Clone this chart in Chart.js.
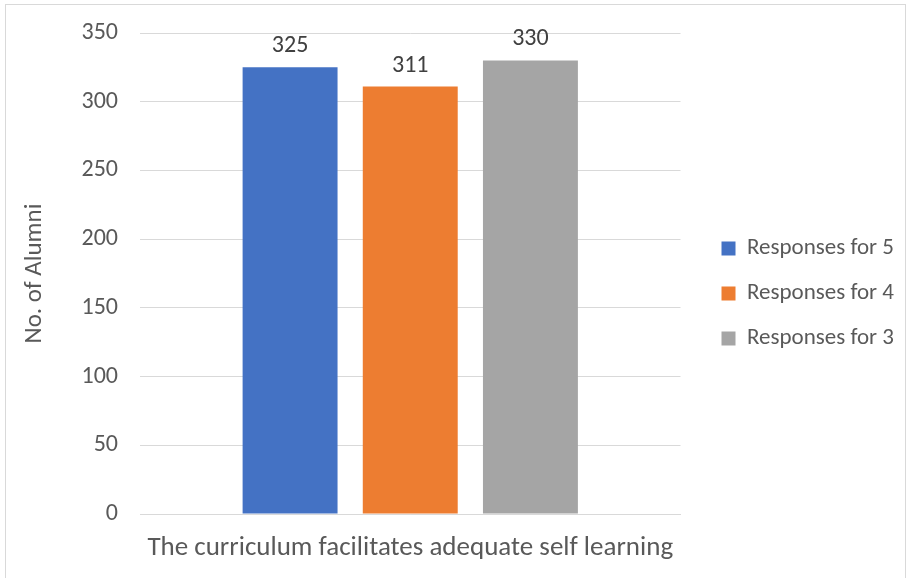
<!DOCTYPE html>
<html>
<head>
<meta charset="utf-8">
<script src="https://cdn.jsdelivr.net/npm/chart.js@4/dist/chart.umd.min.js"></script>
<style>
  body { margin: 0; background: #fff; }
  .wrap { position: relative; width: 911px; height: 578px; }
  .frame { position: absolute; left: 5px; top: 4px; width: 899px; height: 580px; border: 1px solid #d9d9d9; pointer-events: none; }
</style>
</head>
<body>
<div class="wrap">
  <canvas id="myChart" width="911" height="578"></canvas>
  <div class="frame"></div>
</div>
<script>
const categories = ["The curriculum facilitates adequate self learning"];
const seriesNames = ["Responses for 5", "Responses for 4", "Responses for 3"];
const responses5 = [325];
const responses4 = [311];
const responses3 = [330];
const yTicks = [0, 50, 100, 150, 200, 250, 300, 350];

const FONT = "Carlito, Lato, 'Open Sans', sans-serif";
const textColor = "#595959";

// draw the value above every bar
const valueLabels = {
    id: "valueLabels",
    afterDatasetsDraw(chart) {
        const ctx = chart.ctx;
        ctx.save();
        ctx.font = "24px " + FONT;
        ctx.fillStyle = "#404040";
        ctx.textAlign = "center";
        ctx.textBaseline = "bottom";
        chart.data.datasets.forEach((ds, i) => {
            chart.getDatasetMeta(i).data.forEach((bar, j) => {
                ctx.fillText(ds.data[j], bar.x, bar.y - 9);
            });
        });
        ctx.restore();
    }
};

new Chart("myChart", {
    type: "bar",
    data: {
        labels: categories,
        datasets: [
            {label: seriesNames[0], data: responses5, backgroundColor: "#4472C4"},
            {label: seriesNames[1], data: responses4, backgroundColor: "#ED7D31"},
            {label: seriesNames[2], data: responses3, backgroundColor: "#A5A5A5"}
        ]
    },
    options: {
        responsive: false,
        animation: false,
        categoryPercentage: 0.667,
        barPercentage: 0.79,
        layout: {padding: {left: 16, top: 19, right: 7, bottom: 10}},
        plugins: {
            legend: {
                position: "right",
                labels: {
                    font: {size: 23, family: FONT},
                    color: textColor,
                    boxWidth: 14,
                    boxHeight: 14,
                    padding: 22
                }
            },
            tooltip: {enabled: false}
        },
        scales: {
            x: {
                grid: {display: false},
                border: {color: "#d9d9d9", width: 1},
                ticks: {font: {size: 27, family: FONT}, color: textColor, padding: 10},
                afterFit: (s) => { s.height = 54; }
            },
            y: {
                min: 0,
                max: 350,
                afterBuildTicks: (s) => { s.ticks = yTicks.map(v => ({value: v})); },
                grid: {color: "#d9d9d9", drawTicks: false},
                border: {display: false},
                ticks: {font: {size: 24, family: FONT}, color: textColor, padding: 22},
                title: {display: true, text: "No. of Alumni", font: {size: 25, family: FONT}, color: textColor},
                afterFit: (s) => { s.width = 124; s.paddingTop = 33; }
            },
            // hidden axis on the right, only keeps a gap before the legend
            gap: {
                display: false,
                position: "right",
                afterFit: (s) => { s.width = 19; }
            }
        }
    },
    plugins: [valueLabels]
});
</script>
</body>
</html>
